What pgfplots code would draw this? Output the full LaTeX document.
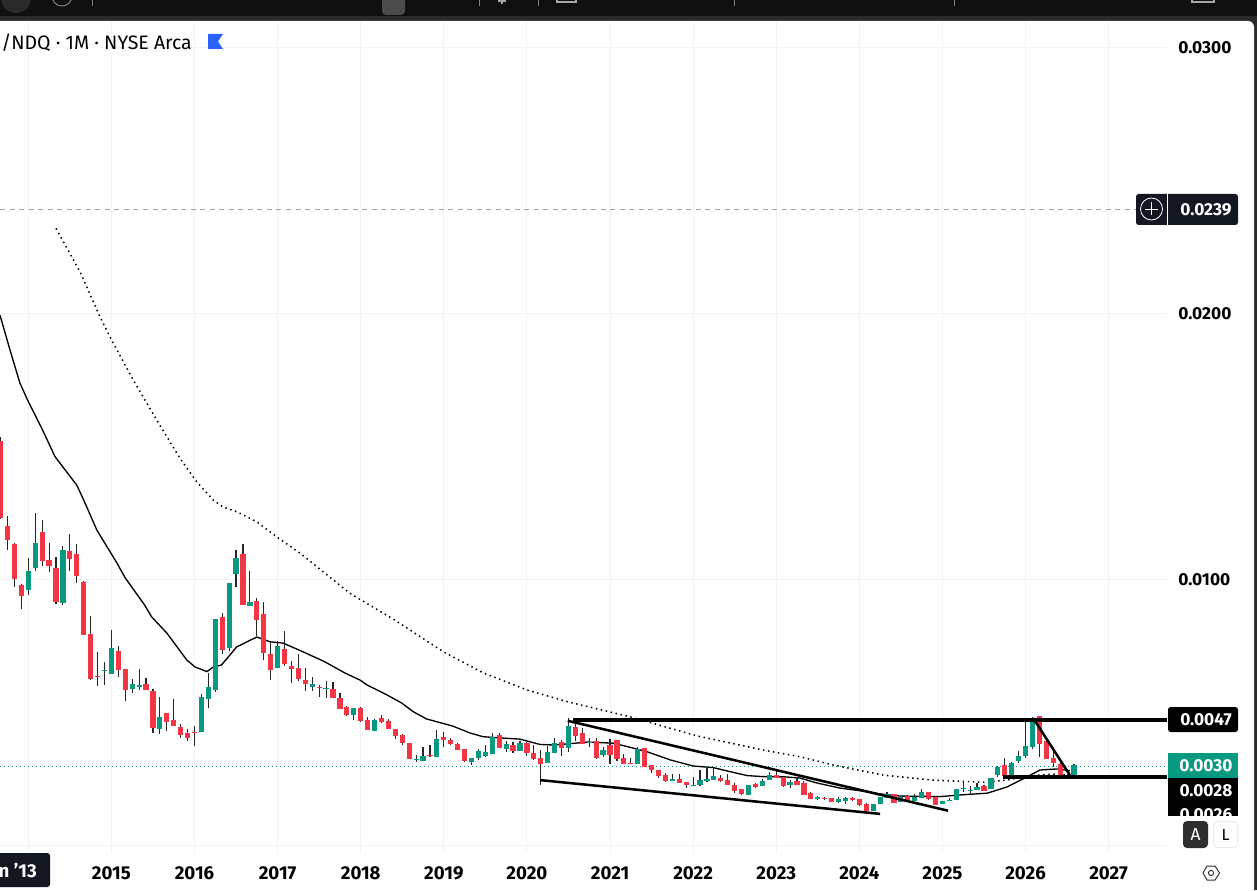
\documentclass[border=0pt]{standalone}
\usepackage{pgfplots}
\usepackage{pgfplotstable}
\usepackage{fontspec}
\setmainfont{Fira Sans}
\pgfplotsset{compat=1.18}
\definecolor{upc}{HTML}{089981}
\definecolor{dnc}{HTML}{F23645}
\definecolor{gridc}{HTML}{F3F3F3}
\definecolor{navy}{HTML}{131722}
\definecolor{flag}{HTML}{2962FF}
\definecolor{barc}{HTML}{0F0F0F}
\definecolor{barb}{HTML}{2A2A2A}
% x = months since Jan 2014
\pgfplotstableread{
x o h l c
-4 0.01519 0.01535 0.01227 0.01230
-3 0.01199 0.01237 0.01110 0.01148
-2 0.01132 0.01135 0.00971 0.01001
-1 0.00977 0.00981 0.00888 0.00937
2 0.01177 0.01222 0.01050 0.01069
3 0.01071 0.01135 0.01028 0.01050
4 0.01041 0.01083 0.00907 0.00915
6 0.01105 0.01169 0.01031 0.01076
7 0.01094 0.01132 0.00986 0.01013
8 0.00989 0.00992 0.00791 0.00791
9 0.00793 0.00861 0.00622 0.00625
10 0.00635 0.00726 0.00599 0.00632
13 0.00729 0.00748 0.00633 0.00659
14 0.00662 0.00662 0.00543 0.00584
17 0.00605 0.00628 0.00584 0.00584
18 0.00579 0.00586 0.00422 0.00441
20 0.00496 0.00496 0.00430 0.00464
21 0.00470 0.00549 0.00449 0.00449
22 0.00444 0.00455 0.00403 0.00415
23 0.00421 0.00436 0.00392 0.00403
24 0.00425 0.00447 0.00373 0.00422
28 0.00857 0.00872 0.00719 0.00734
31 0.01094 0.01132 0.00903 0.00903
33 0.00917 0.00929 0.00787 0.00847
34 0.00868 0.00914 0.00697 0.00723
35 0.00718 0.00763 0.00622 0.00659
37 0.00737 0.00805 0.00674 0.00682
38 0.00673 0.00692 0.00610 0.00662
39 0.00665 0.00718 0.00617 0.00624
40 0.00620 0.00665 0.00580 0.00607
42 0.00594 0.00602 0.00556 0.00590
44 0.00587 0.00613 0.00553 0.00553
45 0.00553 0.00572 0.00511 0.00511
46 0.00519 0.00523 0.00485 0.00489
48 0.00515 0.00519 0.00462 0.00466
49 0.00470 0.00481 0.00432 0.00432
51 0.00478 0.00489 0.00459 0.00462
52 0.00466 0.00474 0.00436 0.00436
53 0.00436 0.00436 0.00399 0.00410
54 0.00414 0.00417 0.00376 0.00383
55 0.00383 0.00383 0.00323 0.00323
58 0.00338 0.00376 0.00331 0.00334
60 0.00406 0.00425 0.00368 0.00395
61 0.00395 0.00402 0.00376 0.00380
62 0.00380 0.00383 0.00357 0.00357
63 0.00361 0.00361 0.00312 0.00316
68 0.00414 0.00421 0.00365 0.00365
70 0.00376 0.00387 0.00346 0.00354
72 0.00383 0.00387 0.00334 0.00346
73 0.00346 0.00376 0.00319 0.00323
74 0.00327 0.00357 0.00227 0.00304
77 0.00387 0.00395 0.00334 0.00365
79 0.00444 0.00470 0.00391 0.00410
80 0.00421 0.00440 0.00380 0.00380
82 0.00391 0.00402 0.00323 0.00327
84 0.00376 0.00398 0.00304 0.00338
85 0.00395 0.00395 0.00316 0.00323
86 0.00327 0.00342 0.00304 0.00304
87 0.00308 0.00327 0.00304 0.00304
89 0.00365 0.00365 0.00293 0.00293
90 0.00301 0.00301 0.00271 0.00282
91 0.00282 0.00282 0.00252 0.00259
92 0.00263 0.00271 0.00237 0.00241
94 0.00248 0.00267 0.00233 0.00233
95 0.00237 0.00237 0.00214 0.00225
100 0.00252 0.00263 0.00237 0.00241
101 0.00244 0.00267 0.00225 0.00225
102 0.00225 0.00233 0.00195 0.00203
103 0.00210 0.00210 0.00188 0.00192
105 0.00229 0.00233 0.00214 0.00218
108 0.00263 0.00282 0.00252 0.00252
109 0.00256 0.00256 0.00218 0.00222
111 0.00241 0.00256 0.00225 0.00225
112 0.00233 0.00241 0.00188 0.00188
113 0.00195 0.00199 0.00173 0.00173
115 0.00177 0.00180 0.00169 0.00173
116 0.00177 0.00177 0.00162 0.00162
119 0.00177 0.00180 0.00165 0.00169
120 0.00173 0.00173 0.00147 0.00150
121 0.00154 0.00158 0.00128 0.00128
125 0.00192 0.00192 0.00158 0.00158
127 0.00184 0.00188 0.00169 0.00169
130 0.00199 0.00199 0.00169 0.00173
131 0.00180 0.00184 0.00150 0.00150
138 0.00222 0.00225 0.00203 0.00203
141 0.00301 0.00327 0.00256 0.00259
146 0.00485 0.00485 0.00331 0.00380
147 0.00391 0.00402 0.00323 0.00323
148 0.00327 0.00368 0.00293 0.00308
149 0.00304 0.00308 0.00256 0.00256
}\dntable
\pgfplotstableread{
x o h l c
0 0.00960 0.01079 0.00941 0.01030
1 0.01043 0.01248 0.01031 0.01135
5 0.00911 0.01124 0.00904 0.01109
11 0.00654 0.00688 0.00603 0.00658
12 0.00644 0.00808 0.00644 0.00741
15 0.00588 0.00624 0.00573 0.00605
16 0.00594 0.00662 0.00584 0.00601
19 0.00437 0.00556 0.00418 0.00481
25 0.00426 0.00568 0.00426 0.00556
26 0.00550 0.00647 0.00516 0.00594
27 0.00584 0.00850 0.00576 0.00850
29 0.00741 0.00985 0.00731 0.00985
30 0.01020 0.01109 0.00971 0.01079
32 0.00900 0.01030 0.00900 0.00913
36 0.00667 0.00767 0.00667 0.00748
41 0.00594 0.00632 0.00580 0.00605
43 0.00587 0.00617 0.00553 0.00590
47 0.00489 0.00515 0.00470 0.00515
50 0.00429 0.00474 0.00429 0.00470
56 0.00319 0.00338 0.00312 0.00323
57 0.00316 0.00368 0.00316 0.00334
59 0.00331 0.00432 0.00331 0.00399
64 0.00312 0.00327 0.00301 0.00327
65 0.00327 0.00361 0.00319 0.00354
66 0.00334 0.00376 0.00331 0.00350
67 0.00342 0.00421 0.00342 0.00406
69 0.00361 0.00391 0.00350 0.00380
71 0.00354 0.00391 0.00354 0.00383
75 0.00308 0.00372 0.00308 0.00350
76 0.00346 0.00402 0.00346 0.00383
78 0.00365 0.00477 0.00350 0.00447
81 0.00383 0.00402 0.00368 0.00387
83 0.00338 0.00368 0.00331 0.00357
88 0.00304 0.00368 0.00304 0.00361
93 0.00241 0.00267 0.00241 0.00248
96 0.00222 0.00256 0.00222 0.00225
97 0.00225 0.00282 0.00222 0.00244
98 0.00241 0.00293 0.00237 0.00248
99 0.00244 0.00293 0.00244 0.00259
104 0.00188 0.00225 0.00188 0.00225
106 0.00222 0.00248 0.00222 0.00241
107 0.00244 0.00274 0.00244 0.00263
110 0.00225 0.00244 0.00214 0.00237
114 0.00173 0.00184 0.00169 0.00180
117 0.00162 0.00180 0.00158 0.00173
118 0.00165 0.00180 0.00154 0.00177
122 0.00128 0.00154 0.00128 0.00154
123 0.00154 0.00180 0.00154 0.00180
124 0.00177 0.00199 0.00177 0.00192
126 0.00162 0.00180 0.00162 0.00180
128 0.00165 0.00192 0.00165 0.00180
129 0.00177 0.00210 0.00177 0.00199
132 0.00154 0.00165 0.00154 0.00165
133 0.00165 0.00177 0.00165 0.00169
134 0.00169 0.00210 0.00169 0.00210
135 0.00210 0.00241 0.00199 0.00214
136 0.00203 0.00222 0.00188 0.00207
137 0.00207 0.00233 0.00207 0.00218
139 0.00210 0.00252 0.00210 0.00252
140 0.00263 0.00297 0.00256 0.00293
142 0.00252 0.00312 0.00252 0.00308
143 0.00316 0.00353 0.00308 0.00334
144 0.00334 0.00470 0.00327 0.00372
145 0.00368 0.00481 0.00361 0.00477
150 0.00259 0.00267 0.00256 0.00263
151 0.00259 0.00304 0.00259 0.00301
}\uptable
\begin{document}
\begin{tikzpicture}
\useasboundingbox (0,0) rectangle (942.75pt,667.5pt);
\clip (0,0) rectangle (942.75pt,667.5pt);
\begin{scope}[x=0.75pt,y=-0.75pt,yshift=667.5pt]
\fill[barc] (0,0) rectangle (1257,890);
\fill[barb] (0,16) rectangle (1257,890);
\fill[white,rounded corners=4.5pt] (-20,21) rectangle (1254,900);
\foreach \k in {0,...,13}{\draw[gridc,line width=0.75pt] ({28.3+83.1*\k},845)--({28.3+83.1*\k},853);}
\end{scope}
\begin{axis}[
  at={(0pt,33.75pt)},anchor=south west,
  scale only axis,width=875.25pt,height=618pt,
  xmin=-4.087,xmax=164.43,ymin=0,ymax=0.03098,
  axis line style={draw=none},
  tick style={draw=none},
  grid=major,grid style={gridc,line width=0.75pt},
  xtick={0,12,24,36,48,60,72,84,96,108,120,132,144,156},
  xticklabels={,2015,2016,2017,2018,2019,2020,2021,2022,2023,2024,2025,2026,2027},
  ytick={0,0.01,0.02,0.03},
  yticklabels={,0.0100,0.0200,0.0300},
  yticklabel pos=right,
  xticklabel style={font=\fontsize{14}{15}\selectfont\bfseries,text=black,yshift=-12.5pt},
  yticklabel style={font=\fontsize{13}{14}\selectfont\bfseries,text=black,anchor=west,xshift=5pt,yshift=-0.7pt},
]
% price and alert levels
\addplot[upc,line width=0.75pt,dash pattern=on 0.75pt off 2.25pt,forget plot] coordinates {(-4.087,0.00297)(164.43,0.00297)};
\addplot[gray!70,line width=0.75pt,dash pattern=on 3.75pt off 3.4pt,forget plot] coordinates {(-4.087,0.0239)(159.9,0.0239)};
% moving averages
\addplot[black,line width=1pt,forget plot] coordinates {
(-4.09,0.01992)(-2.64,0.01861)(-1.2,0.01736)(0,0.01667)(1.94,0.01567)(3.86,0.01460)(7.0,0.01353)(8.0,0.01297)(9.9,0.01184)(12.8,0.01060)(14.0,0.01004)
(16.8,0.00902)(17.8,0.00858)(20.0,0.00797)(22.9,0.00695)(24.1,0.00669)(25.8,0.00652)(26.7,0.00669)(27.9,0.00677)
(30.1,0.00745)(33.0,0.00782)(34.9,0.00764)(36.8,0.00759)(39.7,0.00726)(42.8,0.00689)(45.7,0.00647)(47.9,0.00620)
(48.9,0.00602)(51.8,0.00564)(53.9,0.00534)(55.6,0.00501)(57.5,0.00474)(61.3,0.00447)(63.8,0.00421)(65.7,0.00407)
(68.5,0.00402)(71.0,0.00398)(73.9,0.00378)(75.8,0.00376)(77.8,0.00380)(80.8,0.00387)(84.4,0.00383)(86.5,0.00370)
(89.3,0.00351)(92.7,0.00320)(96.0,0.00297)(98.9,0.00291)(101.3,0.00276)(103.8,0.00261)(106.1,0.00257)(109.3,0.00256)
(111.4,0.00252)(113.9,0.00233)(117.2,0.00214)(120.1,0.00204)(123.0,0.00192)(125.9,0.00184)(131.7,0.00182)(134.5,0.00188)
(138.5,0.00195)(141.3,0.00218)(144.2,0.00256)(146.1,0.00282)(148.6,0.00286)(150.4,0.00279)};
\addplot[black,line width=1.15pt,dash pattern=on 1.1pt off 2.7pt,forget plot] coordinates {
(4.0,0.02318)(7.47,0.02155)(10.35,0.01986)(12.04,0.01898)(15.16,0.01748)(18.54,0.01598)(21.9,0.01454)(24.3,0.01366)(26.7,0.01297)
(28.1,0.01271)(30.1,0.01253)(33.0,0.01215)(35.9,0.01158)(39.2,0.01098)(46.4,0.00947)(52.9,0.00846)(59.9,0.00727)
(65.7,0.00647)(72.0,0.00583)(77.8,0.00539)(86.9,0.00482)(96.6,0.00410)(106.1,0.00357)(111.4,0.00332)(116.2,0.00301)
(123.4,0.00263)(130.6,0.00244)(137.9,0.00236)(141.3,0.00244)(144.2,0.00259)(148.0,0.00267)(150.4,0.00263)};
% candles: wicks
\addplot[draw=none,mark=none,forget plot,error bars/.cd,y dir=both,y explicit,error mark=none,
  error bar style={line width=0.85pt,black!85}]
  table[x=x,y=o,y error plus expr=\thisrow{h}-\thisrow{o},y error minus expr=\thisrow{o}-\thisrow{l}] {\dntable};
\addplot[draw=none,mark=none,forget plot,error bars/.cd,y dir=both,y explicit,error mark=none,
  error bar style={line width=0.85pt,black!85}]
  table[x=x,y=o,y error plus expr=\thisrow{h}-\thisrow{o},y error minus expr=\thisrow{o}-\thisrow{l}] {\uptable};
% candles: bodies
\addplot[draw=none,mark=none,forget plot,error bars/.cd,y dir=minus,y explicit,error mark=none,
  error bar style={line width=3.9pt,dnc}]
  table[x=x,y=o,y error minus expr=\thisrow{o}-\thisrow{c}] {\dntable};
\addplot[draw=none,mark=none,forget plot,error bars/.cd,y dir=plus,y explicit,error mark=none,
  error bar style={line width=3.9pt,upc}]
  table[x=x,y=o,y error plus expr=\thisrow{c}-\thisrow{o}] {\uptable};
% drawn trend lines
\addplot[black,line width=2.6pt,forget plot] coordinates {(78.7,0.0047)(164.43,0.0047)};
\addplot[black,line width=2.6pt,forget plot] coordinates {(140.8,0.00256)(164.43,0.00256)};
\addplot[black,line width=1.9pt,forget plot] coordinates {(77.9,0.00467)(132.8,0.00129)};
\addplot[black,line width=1.9pt,forget plot] coordinates {(73.9,0.00244)(123.0,0.00117)};
\addplot[black,line width=1.9pt,forget plot] coordinates {(145.1,0.00477)(150.4,0.00263)};
\end{axis}
\begin{scope}[x=0.75pt,y=-0.75pt,yshift=667.5pt]
% top bar details
\fill[white!25!barc,rounded corners=3pt] (382,-8) rectangle (405,15);
\draw[barb!50!white,line width=0.6pt] (62,-4) circle (10);
\fill[barb] (16,-2) circle (15);
\foreach \s in {92,479,538,734,954}{\draw[gray,line width=0.6pt] (\s,0)--(\s,6);}
\draw[gray!70,line width=0.8pt] (1192,-3) rectangle (1214,2);
\draw[gray!70,line width=0.8pt] (502,0)--(502,4)(498,1)--(506,1);
\draw[gray!70,line width=0.8pt] (557,-2) rectangle (576,2);
% title
\node[anchor=west,inner sep=0pt,text=black] at (1,42.5) {\fontsize{14.6}{16}\selectfont /NDQ · 1M · NYSE Arca};
\fill[flag] (208,34)--(223,34)--(218,41.5)--(223,49)--(208,49)--cycle;
% right price boxes
\fill[navy,rounded corners=2pt] (1136,194) rectangle (1238,225);
\draw[white,line width=0.75pt] (1167,194)--(1167,225);
\draw[white,line width=0.6pt] (1151.5,209) circle (11);
\draw[white,line width=0.6pt] (1145,209)--(1158,209)(1151.5,202.5)--(1151.5,215.5);
\node[text=white,inner sep=0pt] at (1206,209.5) {\fontsize{13}{14}\selectfont\bfseries 0.0239};
\fill[black,rounded corners=2pt] (1168,707) rectangle (1238,732);
\node[text=white,inner sep=0pt] at (1206,719.5) {\fontsize{13}{14}\selectfont\bfseries 0.0047};
\fill[black] (1168,778) rectangle (1238,816);
\fill[upc] (1168,753) rectangle (1238,778);
\node[text=white,inner sep=0pt] at (1206,765.5) {\fontsize{13}{14}\selectfont\bfseries 0.0030};
\node[text=white,inner sep=0pt] at (1206,790.5) {\fontsize{13}{14}\selectfont\bfseries 0.0028};
\begin{scope}
\clip (1168,778) rectangle (1238,816);
\node[text=white,inner sep=0pt] at (1206,814.5) {\fontsize{13}{14}\selectfont\bfseries 0.0026};
\end{scope}
% auto / log buttons
\fill[black!82,rounded corners=3pt] (1183,821) rectangle (1208,848);
\node[text=white,inner sep=0pt] at (1195.5,834.5) {\fontsize{13}{14}\selectfont A};
\draw[gray!15,fill=white,rounded corners=3pt,line width=0.75pt] (1213.5,821.5) rectangle (1237.5,847.5);
\node[text=black,inner sep=0pt] at (1225.5,834.5) {\fontsize{12}{14}\selectfont L};
% hexagon settings icon
\draw[black!80,line width=0.75pt] (1203,873)--(1207,866)--(1215,866)--(1219.5,873)--(1215,880)--(1207,880)--cycle;
\draw[black!80,line width=0.75pt] (1211,873) circle (2.6);
% first time label
\fill[navy,rounded corners=2pt] (-10,853) rectangle (50,887);
\node[text=white,inner sep=0pt,anchor=east] at (37,872) {\fontsize{14}{15}\selectfont\bfseries Jun \char39 13};
\end{scope}
\end{tikzpicture}
\end{document}
